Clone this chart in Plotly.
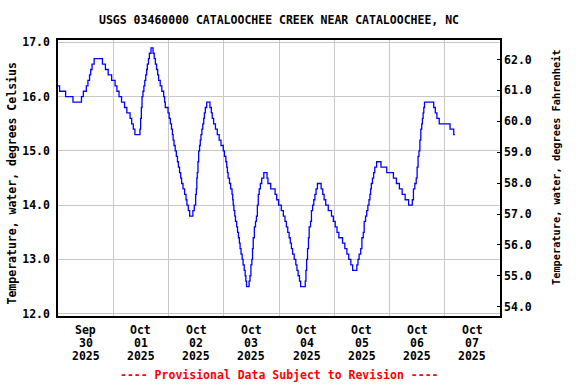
import pandas as pd
import plotly.graph_objects as go

# ---- data ----
start = "2025-09-30 00:00"
hours = [0.0, 0.7, 3.3, 6.5, 10.2, 11.0, 12.3, 13.0, 13.7, 14.2, 14.8, 15.7, 19.3, 20.6, 21.8, 23.3,
         24.8, 25.6, 26.5, 27.6, 28.9, 29.9, 31.3, 32.0, 32.7, 33.4, 35.6, 35.9, 36.2, 36.5, 36.9, 37.3,
         37.7, 38.1, 38.5, 38.8, 39.3, 39.7, 40.4, 41.3, 41.8, 42.3, 42.8, 43.3, 43.7, 44.4, 45.1, 45.9,
         46.3, 46.6, 47.8, 48.3, 48.8, 49.3, 49.7, 50.0, 50.4, 50.9, 51.4, 51.9, 52.3, 52.8, 53.3, 53.7,
         54.3, 55.0, 55.6, 56.0, 56.6, 57.2, 58.6, 59.2, 59.8, 60.1, 60.3, 60.5, 60.8, 61.1, 61.5, 61.8,
         62.1, 62.5, 62.9, 63.3, 63.6, 64.0, 64.6, 66.0, 66.6, 67.0, 67.6, 68.4, 69.2, 70.0, 70.8, 71.8,
         72.3, 72.9, 73.3, 73.6, 73.9, 74.5, 75.0, 75.6, 75.9, 76.1, 76.4, 76.8, 77.1, 77.6, 78.0, 78.4,
         78.8, 79.1, 79.5, 80.0, 80.4, 80.9, 81.3, 81.6, 81.9, 83.0, 83.4, 83.8, 84.2, 84.5, 84.8, 85.3,
         85.8, 86.2, 86.6, 87.0, 87.4, 87.9, 88.5, 89.4, 90.8, 91.2, 92.4, 94.3, 95.0, 95.8, 97.0, 97.9,
         98.6, 99.2, 99.8, 100.4, 100.9, 101.4, 101.9, 102.6, 103.3, 103.8, 104.3, 104.9, 105.4, 107.4,
         107.7, 108.0, 108.4, 108.8, 109.1, 109.7, 110.1, 110.6, 111.1, 111.6, 112.1, 112.7, 114.3, 115.0,
         115.6, 116.3, 117.4, 118.8, 119.6, 120.4, 121.2, 122.0, 123.6, 124.6, 125.5, 126.3, 127.2, 128.0,
         129.8, 130.3, 130.8, 131.5, 132.0, 132.6, 133.0, 133.6, 134.1, 134.6, 135.1, 135.5, 135.8, 136.1,
         136.6, 137.1, 137.6, 138.4, 140.3, 142.8, 145.7, 147.0, 148.3, 149.5, 150.8, 152.3, 153.9, 154.4,
         155.0, 155.6, 156.0, 156.4, 156.8, 157.2, 157.6, 158.0, 158.3, 158.6, 158.9, 159.2, 163.2, 163.9,
         164.6, 165.6, 170.3, 171.9, 172.4]
temp_c = [16.2, 16.1, 16.0, 15.9, 16.0, 16.1, 16.2, 16.3, 16.4, 16.5, 16.6, 16.7, 16.6, 16.5, 16.4, 16.3,
          16.2, 16.1, 16.0, 15.9, 15.8, 15.7, 15.6, 15.5, 15.4, 15.3, 15.4, 15.6, 15.8, 16.0, 16.1, 16.2,
          16.3, 16.4, 16.5, 16.6, 16.7, 16.8, 16.9, 16.8, 16.7, 16.6, 16.5, 16.4, 16.3, 16.2, 16.1, 16.0,
          15.9, 15.8, 15.7, 15.6, 15.5, 15.4, 15.3, 15.2, 15.1, 15.0, 14.9, 14.8, 14.7, 14.6, 14.5, 14.4,
          14.3, 14.2, 14.1, 14.0, 13.9, 13.8, 13.9, 14.0, 14.2, 14.3, 14.5, 14.6, 14.8, 15.0, 15.1, 15.2,
          15.3, 15.4, 15.5, 15.6, 15.7, 15.8, 15.9, 15.8, 15.7, 15.6, 15.5, 15.4, 15.3, 15.2, 15.1, 15.0,
          14.9, 14.8, 14.7, 14.6, 14.5, 14.4, 14.3, 14.2, 14.1, 14.0, 13.9, 13.8, 13.7, 13.6, 13.5, 13.4,
          13.3, 13.2, 13.1, 13.0, 12.9, 12.8, 12.7, 12.6, 12.5, 12.6, 12.7, 12.9, 13.0, 13.2, 13.4, 13.6,
          13.7, 13.8, 14.0, 14.2, 14.3, 14.4, 14.5, 14.6, 14.5, 14.4, 14.3, 14.2, 14.1, 14.0, 13.9, 13.8,
          13.7, 13.6, 13.5, 13.4, 13.3, 13.2, 13.1, 13.0, 12.9, 12.8, 12.7, 12.6, 12.5, 12.6,
          12.8, 13.0, 13.2, 13.4, 13.6, 13.7, 13.9, 14.0, 14.1, 14.2, 14.3, 14.4, 14.3, 14.2,
          14.1, 14.0, 13.9, 13.8, 13.7, 13.6, 13.5, 13.4, 13.3, 13.2, 13.1, 13.0, 12.9, 12.8,
          12.9, 13.0, 13.1, 13.2, 13.4, 13.5, 13.7, 13.8, 13.9, 14.0, 14.1, 14.2, 14.3, 14.4,
          14.5, 14.6, 14.7, 14.8, 14.7, 14.6, 14.5, 14.4, 14.3, 14.2, 14.1, 14.0, 14.1, 14.3,
          14.4, 14.5, 14.7, 14.9, 15.0, 15.2, 15.4, 15.5, 15.6, 15.7, 15.8, 15.9, 15.8, 15.7,
          15.6, 15.5, 15.4, 15.3, 15.3]

day_ticks = ["2025-09-30 12:00", "2025-10-01 12:00", "2025-10-02 12:00", "2025-10-03 12:00",
             "2025-10-04 12:00", "2025-10-05 12:00", "2025-10-06 12:00", "2025-10-07 12:00"]
tick_month = ["Sep", "Oct", "Oct", "Oct", "Oct", "Oct", "Oct", "Oct"]
tick_day = ["30", "01", "02", "03", "04", "05", "06", "07"]
tick_year = ["2025", "2025", "2025", "2025", "2025", "2025", "2025", "2025"]
c_ticks = [12.0, 13.0, 14.0, 15.0, 16.0, 17.0]
f_ticks = [54.0, 55.0, 56.0, 57.0, 58.0, 59.0, 60.0, 61.0, 62.0]

title = "USGS 03460000 CATALOOCHEE CREEK NEAR CATALOOCHEE, NC"
left_title = "Temperature, water, degrees Celsius"
right_title = "Temperature, water, degrees Fahrenheit"
footer = "---- Provisional Data Subject to Revision ----"

times = pd.Timestamp(start) + pd.to_timedelta(hours, unit="h")

FONT = "DejaVu Sans Mono"
fs = 11.5
PH = 276.5  # plot height in px
PW = 441.7  # plot width in px


def tf(size=fs, color="black"):
    return dict(family=FONT, size=size, color=color, weight="bold")


fig = go.Figure()
fig.add_trace(go.Scatter(x=times, y=temp_c, mode="lines", line=dict(color="#0000ff", width=1.3, shape="hv"),
                         showlegend=False, hoverinfo="x+y"))
fig.add_trace(go.Scatter(x=[times[0]], y=[None], yaxis="y2", mode="lines", showlegend=False, hoverinfo="skip"))

annotations = [
    dict(text=title, xref="paper", yref="paper", x=0.5, y=1 + 20 / PH, xanchor="center",
         yanchor="middle", showarrow=False, font=tf()),
    dict(text=left_title, xref="paper", yref="paper", x=(12 - 58) / PW, y=0.48, textangle=-90,
         xanchor="center", yanchor="middle", showarrow=False, font=tf()),
    dict(text=right_title, xref="paper", yref="paper", x=(555 - 58) / PW, y=0.541, textangle=-90,
         xanchor="center", yanchor="middle", showarrow=False, font=tf(10.3)),
    dict(text=footer, xref="paper", yref="paper", x=0.5, y=(316 - 375) / PH, xanchor="center",
         yanchor="middle", showarrow=False, font=tf(color="red")),
]
for line_texts, ypix in ((tick_month, 330), (tick_day, 343), (tick_year, 356)):
    for xv, t in zip(day_ticks, line_texts):
        annotations.append(dict(text=t, xref="x", yref="paper", x=xv, y=(316 - ypix) / PH,
                                xanchor="center", yanchor="middle", showarrow=False, font=tf()))

fig.update_layout(
    width=576, height=384,
    margin=dict(l=58, r=76.3, t=39.5, b=68, autoexpand=False),
    paper_bgcolor="white", plot_bgcolor="white",
    font=tf(),
    xaxis=dict(
        type="date", range=["2025-09-30 00:00", "2025-10-08 00:00"],
        tickmode="array", tickvals=day_ticks, showticklabels=False,
        showgrid=False, ticks="", showline=True, linecolor="black", linewidth=1.5, mirror=True,
        minor=dict(tick0="2025-09-30", dtick=86400000, showgrid=True, gridcolor="#c8c8c8", gridwidth=1, ticks=""),
        zeroline=False, automargin=False,
    ),
    yaxis=dict(
        range=[11.958, 17.044], tickmode="array", tickvals=c_ticks, tickformat=".1f",
        showgrid=True, gridcolor="#c8c8c8", gridwidth=1, ticks="", ticklabelstandoff=4,
        showline=True, linecolor="black", linewidth=1.5, zeroline=False, automargin=False,
        tickfont=tf(),
    ),
    yaxis2=dict(
        overlaying="y", side="right", range=[53.70, 62.63], tickmode="array", tickvals=f_ticks,
        tickformat=".1f", showgrid=False, ticks="inside", ticklen=3, tickcolor="black",
        showline=True, linecolor="black", linewidth=1.5, zeroline=False, automargin=False,
        tickfont=tf(),
    ),
    annotations=annotations,
)

# remove the browser's default 8px body margin so the figure fills the window exactly
fig.write_html("out.html", config={"displayModeBar": False},
               post_script="document.body.style.margin='0';document.body.style.overflow='hidden';")
